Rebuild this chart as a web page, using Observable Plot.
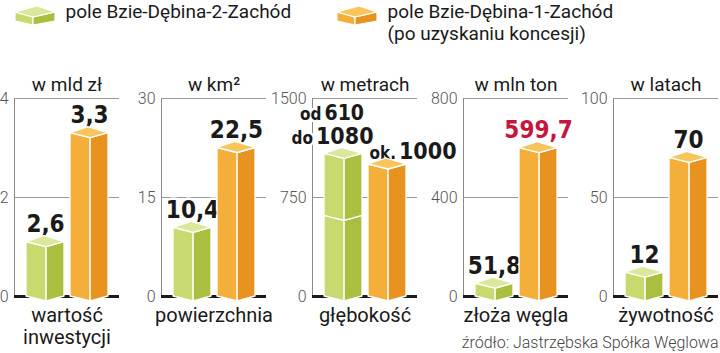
<!DOCTYPE html>
<html><head><meta charset="utf-8">
<script src="https://cdn.jsdelivr.net/npm/d3@7"></script>
<script src="https://cdn.jsdelivr.net/npm/@observablehq/plot@0.6"></script>
<style>
html,body{margin:0;padding:0;background:#fff;}
#chart{position:relative;width:720px;height:353px;overflow:hidden;font-family:Roboto,sans-serif;}
#chart svg{position:absolute;top:0;}
g[aria-label="value"] text{letter-spacing:-1px;}
</style></head><body><div id="chart"></div>
<script>
// ---- data ----
const seriesKeys = ["g", "o"];
const seriesNames = ["pole Bzie-Dębina-2-Zachód", "pole Bzie-Dębina-1-Zachód\n(po uzyskaniu koncesji)"];
const categories = ["wartość\ninwestycji", "powierzchnia", "głębokość", "złoża węgla", "żywotność"];
const units = ["w mld zł", "w km²", "w metrach", "w mln ton", "w latach"];
const axisMax = [4, 30, 1500, 800, 100];
const tickValues = [[0, 2, 4], [0, 15, 30], [0, 750, 1500], [0, 400, 800], [0, 50, 100]];
const greenHeights = [1.1, 10.4, 1080, 51.8, 12];
const greenSplits = [null, null, 610, null, null];
const orangeHeights = [3.3, 22.5, 1000, 599.7, 70];
const greenLabels = ["2,6", "10,4", "od 610\ndo 1080", "51,8", "12"];
const orangeLabels = ["3,3", "22,5", "ok. 1000", "599,7", "70"];
const highlighted = "599,7";
const source = "źródło: Jastrzębska Spółka Węglowa";

// ---- style / layout ----
const palette = {
  g: {top: "#dde79b", left: "#c8da6f", right: "#aabf40"},
  o: {top: "#f8c55b", left: "#f4af3a", right: "#e8921f"}
};
const axisX = [14, 161, 312, 463, 613];
const PANEL_W = 150, ML = 45;
const numFont = "'DejaVu Sans Condensed', 'Liberation Sans Narrow', 'DejaVu Sans', sans-serif";
const dark = "#1a1a1a", red = "#c5163e";
const baseStyle = {background: "transparent", overflow: "visible", fontFamily: "Roboto, sans-serif"};
const chart = document.getElementById("chart");

function drawBox(g, xl, xr, yTop, yBot, col, cap, f = 5, b = 6) {
  const xm = xl + (xr - xl) * 0.53, xb = xl + xr - xm;
  const poly = (pts, fill) => g.append("polygon")
    .attr("points", pts.map(p => p.join(",")).join(" "))
    .attr("fill", fill).attr("stroke", "#fff").attr("stroke-width", 1.3).attr("stroke-linejoin", "round");
  poly([[xl, yTop], [xm, yTop + f], [xm, yBot + f], [xl, yBot]], col.left);
  poly([[xm, yTop + f], [xr, yTop], [xr, yBot], [xm, yBot + f]], col.right);
  if (cap) poly([[xl, yTop], [xb, yTop - b], [xr, yTop], [xm, yTop + f]], col.top);
}

const ctx = document.createElement("canvas").getContext("2d");
function textW(str, size) {
  ctx.font = `bold ${size}px ${numFont}`;
  return ctx.measureText(str).width - str.length * 1;
}

// ---- legend ----
const legend = Plot.plot({
  width: 720, height: 50, margin: 0,
  style: baseStyle,
  x: {type: "point", domain: seriesKeys, range: [35, 357], padding: 0, axis: null},
  marks: [
    Plot.dot(seriesKeys, {x: d => d, render: (index, scales, values, dims) => {
      const g = d3.create("svg:g");
      const cy = dims.height / 2;
      for (const i of index) {
        const cx = values.x[i];
        const col = palette[seriesKeys[i]];
        const xl = cx - 20, xr = cx + 20, xm = cx - 2, xb = cx + 2;
        const poly = (pts, fill) => g.append("polygon").attr("points", pts.map(p => p.join(",")).join(" "))
          .attr("fill", fill).attr("stroke", "#fff").attr("stroke-width", 1.2).attr("stroke-linejoin", "round");
        poly([[xl, cy - 13], [xm, cy - 8], [xm, cy], [xl, cy - 4]], col.left);
        poly([[xm, cy - 8], [xr, cy - 13], [xr, cy - 4], [xm, cy]], col.right);
        poly([[xl, cy - 13], [xb, cy - 19], [xr, cy - 13], [xm, cy - 8]], col.top);
      }
      return g.node();
    }}),
    Plot.text(seriesKeys, {x: d => d, text: (d, i) => seriesNames[i], textAnchor: "start", lineAnchor: "top",
      dx: 30, dy: -23.6, fontSize: 19, lineHeight: 1.16, fill: dark})
  ]
});
legend.style.left = "0px";
chart.appendChild(legend);

// ---- panels ----
categories.forEach((cat, p) => {
  const rows = [];
  if (greenSplits[p] != null) {
    rows.push({s: "g", lo: 0, hi: greenSplits[p], cap: false});
    rows.push({s: "g", lo: greenSplits[p], hi: greenHeights[p], cap: true});
  } else rows.push({s: "g", lo: 0, hi: greenHeights[p], cap: true});
  rows.push({s: "o", lo: 0, hi: orangeHeights[p], cap: true});

  const labelMarks = [];
  const bw = 38;
  [["g", greenLabels[p], greenHeights[p]], ["o", orangeLabels[p], orangeHeights[p]]].forEach(([s, L, h]) => {
    const lines = L.split("\n");
    const n = lines.length;
    lines.forEach((line, j) => {
      const m = line.match(/^(\D+?)\s+([\d,]+)$/);
      const dy = (m && n === 1) ? -6 : -10 - (n - 1 - j) * 24;
      const common = {x: d => d.s, y: d => d.hi, lineAnchor: "bottom", fontWeight: "bold", fontFamily: numFont,
        stroke: "white", strokeWidth: 5, paintOrder: "stroke", ariaLabel: "value"};
      if (m) {
        const shift = s === "g" ? -12 : 25;
        const numSize = n > 1 && j === 0 ? 21 : 23;
        const wP = textW(m[1], 17), wN = textW(m[2], numSize), gap = 3;
        const total = wP + gap + wN;
        const dxP = shift - total / 2 + wP;
        labelMarks.push(Plot.text([{s, hi: h}], {...common, text: () => m[1], fontSize: 17, textAnchor: "end", dx: dxP, dy, fill: dark}));
        labelMarks.push(Plot.text([{s, hi: h}], {...common, text: () => m[2], fontSize: numSize, textAnchor: "start", dx: dxP + gap, dy, fill: dark}));
      } else {
        labelMarks.push(Plot.text([{s, hi: h}], {...common, text: () => line, fontSize: 24, dy,
          fill: line === highlighted ? red : dark}));
      }
    });
  });

  const extra = p === categories.length - 1 ? [
    Plot.text([source], {frameAnchor: "bottom-right", textAnchor: "end", lineAnchor: "bottom", dy: 51, fontSize: 16, fontWeight: 300, fill: "#444"})
  ] : [];

  const svg = Plot.plot({
    width: PANEL_W, height: 353,
    marginTop: 98, marginBottom: 57, marginLeft: ML, marginRight: 0,
    style: baseStyle,
    x: {type: "band", domain: seriesKeys, padding: 0.146, insetLeft: 5, insetRight: 4.5, axis: null},
    y: {domain: [0, axisMax[p]], axis: null},
    marks: [
      Plot.ruleY(tickValues[p].filter(v => v > 0), {stroke: "#9a9a9a", strokeWidth: 1}),
      Plot.frame({anchor: "left", stroke: "#8a8a8a"}),
      Plot.ruleY([0], {stroke: dark, strokeWidth: 3}),
      Plot.axisY(tickValues[p], {tickSize: 0, tickPadding: 6, fontSize: 16, fontWeight: 300, color: "#555",
        label: null, tickFormat: d => String(d)}),
      Plot.text([units[p]], {frameAnchor: "top", dy: -21, fontSize: 19, fill: dark}),
      Plot.text([cat], {frameAnchor: "bottom", lineAnchor: "top", dy: 9.4, fontSize: 20, lineHeight: 1.1, fill: dark}),
      ...labelMarks,
      Plot.barY(rows, {x: "s", y1: "lo", y2: "hi", render: (index, scales) => {
        const g = d3.create("svg:g");
        const w = scales.x.bandwidth ? scales.x.bandwidth() : bw;
        for (const i of index) {
          const r = rows[i];
          const xl = scales.x(r.s);
          drawBox(g, xl, xl + w, scales.y(r.hi), scales.y(r.lo), palette[r.s], r.cap);
        }
        return g.node();
      }}),
      ...extra
    ]
  });
  svg.style.left = (axisX[p] - ML) + "px";
  chart.appendChild(svg);
});
</script></body></html>
